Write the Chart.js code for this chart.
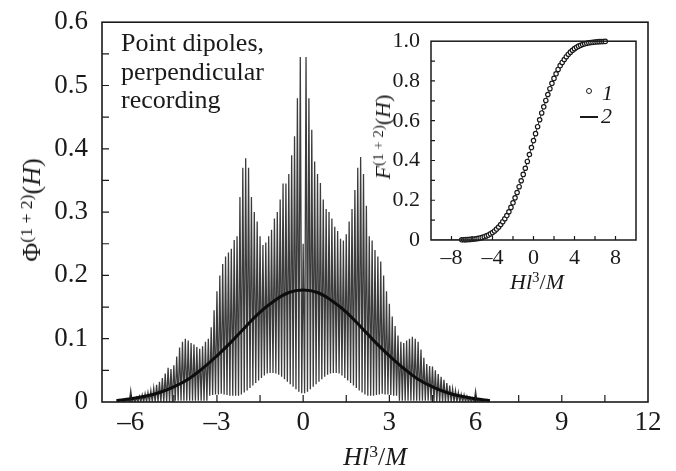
<!DOCTYPE html>
<html lang="en">
<head>
<meta charset="UTF-8">
<title>Point dipoles, perpendicular recording</title>
<script src="https://cdn.jsdelivr.net/npm/chart.js"></script>
<style>
    body { margin: 0; background: #fff; }
    #wrap { position: relative; width: 676px; height: 471px; font-family: 'Liberation Serif', serif; color: #1a1a1a; }
    #mainChart { position: absolute; left: 0; top: 0; }
    #insetChart { position: absolute; left: 380px; top: 25px; }
    .lbl { position: absolute; white-space: nowrap; line-height: 1; }
    .rot { transform: translate(-50%, -50%) rotate(-90deg); }
    sup { font-size: 0.68em; position: relative; top: -0.45em; vertical-align: baseline; line-height: 0; }
    .dot { position: absolute; width: 4px; height: 4px; border: 1.3px solid #1a1a1a; border-radius: 50%; }
    .dash { position: absolute; height: 1.6px; background: #1a1a1a; }
</style>
</head>
<body>
<div id="wrap">
    <canvas id="mainChart" width="676" height="471"></canvas>
    <canvas id="insetChart" width="262" height="250"></canvas>

    <div class="lbl rot" style="left:32px; top:210px; font-size:26px">&Phi;<sup>(1 + 2)</sup>(<i>H</i>)</div>
    <div class="lbl" style="left:375px; top:444px; font-size:26px; transform:translateX(-50%)"><i>Hl</i><sup>3</sup>/<i>M</i></div>
    <div class="lbl" style="left:121px; top:29px; font-size:26px; line-height:28.5px">Point dipoles,<br>perpendicular<br>recording</div>

    <div class="lbl rot" style="left:383px; top:137px; font-size:22px"><i>F</i><sup>(1 + 2)</sup>(<i>H</i>)</div>
    <div class="lbl" style="left:537px; top:271px; font-size:22px; transform:translateX(-50%)"><i>Hl</i><sup>3</sup>/<i>M</i></div>

    <div class="dot" style="left:586px; top:88px"></div>
    <div class="lbl" style="left:602px; top:82px; font-size:22px"><i>1</i></div>
    <div class="dash" style="left:580px; top:116px; width:18px"></div>
    <div class="lbl" style="left:601px; top:105px; font-size:22px"><i>2</i></div>
</div>

<script>
    // main panel: spiky distribution, peaks every 0.1 from -6.3, troughs halfway between
    const spikeStart = -6.3;
    const spikeStep = 0.1;
    const phiPeaks = [
        0.002, 0.003, 0.004, 0.018, 0.006, 0.007, 0.009, 0.011, 0.013, 0.015,
        0.018, 0.022, 0.027, 0.032, 0.038, 0.045, 0.054, 0.052, 0.058, 0.072,
        0.086, 0.095, 0.1, 0.097, 0.093, 0.091, 0.087, 0.084, 0.088, 0.095,
        0.1, 0.118, 0.145, 0.175, 0.2, 0.218, 0.23, 0.236, 0.242, 0.256,
        0.262, 0.324, 0.37, 0.385, 0.37, 0.324, 0.3, 0.285, 0.262, 0.248,
        0.252, 0.262, 0.272, 0.29, 0.3, 0.32, 0.345, 0.345, 0.36, 0.39,
        0.42, 0.48, 0.545, 0.25,
        0.545, 0.48, 0.43, 0.38, 0.36, 0.346, 0.32, 0.305, 0.3, 0.29,
        0.277, 0.27, 0.258, 0.255, 0.265, 0.285, 0.305, 0.335, 0.37, 0.387,
        0.36, 0.31, 0.262, 0.255, 0.24, 0.23, 0.222, 0.2, 0.175, 0.155,
        0.135, 0.12, 0.105, 0.095, 0.093, 0.097, 0.1, 0.103, 0.1, 0.095,
        0.083, 0.07, 0.06, 0.057, 0.056, 0.05, 0.044, 0.04, 0.035, 0.03,
        0.026, 0.021, 0.018, 0.015, 0.012, 0.011, 0.009, 0.007, 0.006, 0.017,
        0.004, 0.003, 0.002
    ];
    const phiTroughs = [
        0, 0, 0, 0, 0, 0, 0, 0, 0, 0, 0, 0, 0, 0, 0, 0, 0, 0,
        0.002, 0.002, 0.002, 0.002, 0.002, 0.002, 0.002, 0.002, 0.002, 0.002, 0.002, 0.002,
        0.01, 0.011, 0.012, 0.012, 0.013, 0.012, 0.011, 0.01, 0.01, 0.01,
        0.01, 0.012, 0.015, 0.018, 0.022, 0.026, 0.03, 0.034, 0.038, 0.042,
        0.045, 0.046, 0.046, 0.045, 0.043, 0.04, 0.036, 0.032, 0.028, 0.024,
        0.02, 0.016, 0.014,
        0.014, 0.016, 0.02, 0.024, 0.028, 0.032, 0.036, 0.04, 0.043, 0.045,
        0.046, 0.046, 0.045, 0.042, 0.038, 0.034, 0.03, 0.026, 0.022, 0.018,
        0.015, 0.012, 0.01,
        0.01, 0.01, 0.011, 0.012, 0.013, 0.012, 0.012, 0.011, 0.01, 0.01,
        0.002, 0.002, 0.002, 0.002, 0.002, 0.002, 0.002, 0.002, 0.002, 0.002, 0.002, 0.002,
        0, 0, 0, 0, 0, 0, 0, 0, 0, 0, 0, 0, 0, 0, 0, 0, 0, 0
    ];

    // smooth curve of the main panel
    const gaussX = [-6.5, -6, -5.5, -5, -4.5, -4, -3.5, -3, -2.5, -2, -1.5, -1, -0.5, 0,
                    0.5, 1, 1.5, 2, 2.5, 3, 3.5, 4, 4.5, 5, 5.5, 6, 6.5];
    const gaussY = [0.002, 0.005, 0.009, 0.015, 0.024, 0.036, 0.053, 0.073, 0.095, 0.119, 0.142, 0.16, 0.173, 0.177,
                    0.173, 0.16, 0.142, 0.119, 0.095, 0.073, 0.053, 0.036, 0.024, 0.015, 0.009, 0.005, 0.002];

    // inset: cumulative curve, circles every 0.2 from -7 to 7
    const cdfStart = -7;
    const cdfStep = 0.2;
    const cdfY = [
        0.001, 0.0013, 0.0017, 0.0023, 0.003, 0.004, 0.005, 0.0064, 0.008, 0.0104,
        0.013, 0.0166, 0.0207, 0.025, 0.031, 0.0375, 0.0455, 0.055, 0.0655, 0.078,
        0.092, 0.107, 0.123, 0.142, 0.164, 0.187, 0.212, 0.239, 0.268, 0.298,
        0.33, 0.361, 0.395, 0.43, 0.465, 0.5, 0.535, 0.57, 0.605, 0.639,
        0.67, 0.702, 0.732, 0.761, 0.788, 0.813, 0.836, 0.858, 0.877, 0.893,
        0.908, 0.922, 0.9345, 0.945, 0.9545, 0.9625, 0.969, 0.975, 0.9793, 0.9834,
        0.987, 0.9896, 0.992, 0.9936, 0.995, 0.996, 0.997, 0.9977, 0.9983, 0.9987,
        0.999
    ];
    const cdfLineEnds = [[-10, 0], [10, 1]];

    // ticks
    const mainXTicks = [-6, -3, 0, 3, 6, 9, 12];
    const mainYTicks = [0, 0.1, 0.2, 0.3, 0.4, 0.5, 0.6];
    const mainXMarks = [-6, -4.5, -3, -1.5, 0, 1.5, 3, 4.5, 6, 7.5, 9, 10.5];
    const mainYMarks = [0.05, 0.1, 0.15, 0.2, 0.25, 0.3, 0.35, 0.4, 0.45, 0.5, 0.55];
    const insetXTicks = [-8, -4, 0, 4, 8];
    const insetYTicks = [0, 0.2, 0.4, 0.6, 0.8, 1.0];
    const insetXMarks = [-8, -6, -4, -2, 0, 2, 4, 6, 8];
    const insetYMarks = [0.1, 0.2, 0.3, 0.4, 0.5, 0.6, 0.7, 0.8, 0.9];

    const ink = '#1a1a1a';
    const dash = v => v < 0 ? '\u2013' + Math.abs(v) : String(v);
    const dec = v => v === 0 ? '0' : v.toFixed(1);

    // box around the plot area and inward tick marks
    function frameTicks(xMarks, yMarks, len, width) {
        return {
            id: 'frameTicks',
            afterDatasetsDraw(chart) {
                const { ctx, chartArea: a, scales: { x, y } } = chart;
                ctx.save();
                ctx.strokeStyle = ink;
                ctx.lineWidth = width;
                ctx.strokeRect(a.left, a.top, a.right - a.left, a.bottom - a.top);
                ctx.lineWidth = 1.2;
                ctx.beginPath();
                xMarks.forEach(v => {
                    const px = x.getPixelForValue(v);
                    ctx.moveTo(px, a.bottom);
                    ctx.lineTo(px, a.bottom - len);
                });
                yMarks.forEach(v => {
                    const py = y.getPixelForValue(v);
                    ctx.moveTo(a.left, py);
                    ctx.lineTo(a.left + len, py);
                });
                ctx.stroke();
                ctx.restore();
            }
        };
    }

    const spikePoints = [];
    phiPeaks.forEach((v, i) => {
        const x = spikeStart + i * spikeStep;
        spikePoints.push({ x: x, y: v });
        if (i < phiTroughs.length) spikePoints.push({ x: x + spikeStep / 2, y: phiTroughs[i] });
    });
    const gaussPoints = gaussX.map((x, i) => ({ x: x, y: gaussY[i] }));

    const cdfPoints = cdfY.map((v, i) => ({ x: cdfStart + i * cdfStep, y: v }));
    const cdfLine = [{ x: cdfLineEnds[0][0], y: cdfLineEnds[0][1] }, ...cdfPoints,
                     { x: cdfLineEnds[1][0], y: cdfLineEnds[1][1] }];

    new Chart(document.getElementById('mainChart'), {
        type: 'line',
        data: {
            datasets: [
                { data: gaussPoints, borderColor: '#0d0d0d', borderWidth: 3, pointRadius: 0, tension: 0.4 },
                { data: spikePoints, borderColor: '#3c3c3c', borderWidth: 1.3, pointRadius: 0, tension: 0 }
            ]
        },
        options: {
            responsive: false,
            animation: false,
            layout: { padding: { top: 19, right: 28, left: 0, bottom: 0 } },
            plugins: { legend: { display: false }, tooltip: { enabled: false } },
            scales: {
                x: {
                    type: 'linear', min: -7, max: 12,
                    grid: { display: false }, border: { display: false },
                    afterBuildTicks: s => { s.ticks = mainXTicks.map(v => ({ value: v })); },
                    afterFit: s => { s.height = 69; },
                    ticks: {
                        padding: -3, color: ink, maxRotation: 0, autoSkip: false,
                        font: { family: 'Liberation Serif', size: 27 },
                        callback: v => dash(v)
                    }
                },
                y: {
                    min: 0, max: 0.6,
                    grid: { display: false }, border: { display: false },
                    afterBuildTicks: s => { s.ticks = mainYTicks.map(v => ({ value: v })); },
                    afterFit: s => { s.width = 102; },
                    ticks: {
                        padding: 6, color: ink, autoSkip: false,
                        font: { family: 'Liberation Serif', size: 27 },
                        callback: v => dec(v)
                    }
                }
            }
        },
        plugins: [frameTicks(mainXMarks, mainYMarks, 7, 1.6)]
    });

    new Chart(document.getElementById('insetChart'), {
        type: 'line',
        data: {
            datasets: [
                { data: cdfPoints, showLine: false, pointRadius: 2.2, pointBorderWidth: 1.2,
                  pointBackgroundColor: '#fff', pointBorderColor: ink, clip: 6 },
                { data: cdfLine, borderColor: '#333', borderWidth: 1, pointRadius: 0, tension: 0 }
            ]
        },
        options: {
            responsive: false,
            animation: false,
            layout: { padding: { top: 10, right: 6, left: 0, bottom: 0 } },
            plugins: { legend: { display: false }, tooltip: { enabled: false } },
            scales: {
                x: {
                    type: 'linear', min: -10, max: 10,
                    grid: { display: false }, border: { display: false },
                    afterBuildTicks: s => { s.ticks = insetXTicks.map(v => ({ value: v })); },
                    afterFit: s => { s.height = 35; },
                    ticks: {
                        padding: -3, color: ink, maxRotation: 0, autoSkip: false,
                        font: { family: 'Liberation Serif', size: 22 },
                        callback: v => dash(v)
                    }
                },
                y: {
                    min: 0, max: 1,
                    grid: { display: false }, border: { display: false },
                    afterBuildTicks: s => { s.ticks = insetYTicks.map(v => ({ value: v })); },
                    afterFit: s => { s.width = 51; },
                    ticks: {
                        padding: 3, color: ink, autoSkip: false,
                        font: { family: 'Liberation Serif', size: 22 },
                        callback: v => dec(v)
                    }
                }
            }
        },
        plugins: [frameTicks(insetXMarks, insetYMarks, 4, 1.5)]
    });
</script>
</body>
</html>
